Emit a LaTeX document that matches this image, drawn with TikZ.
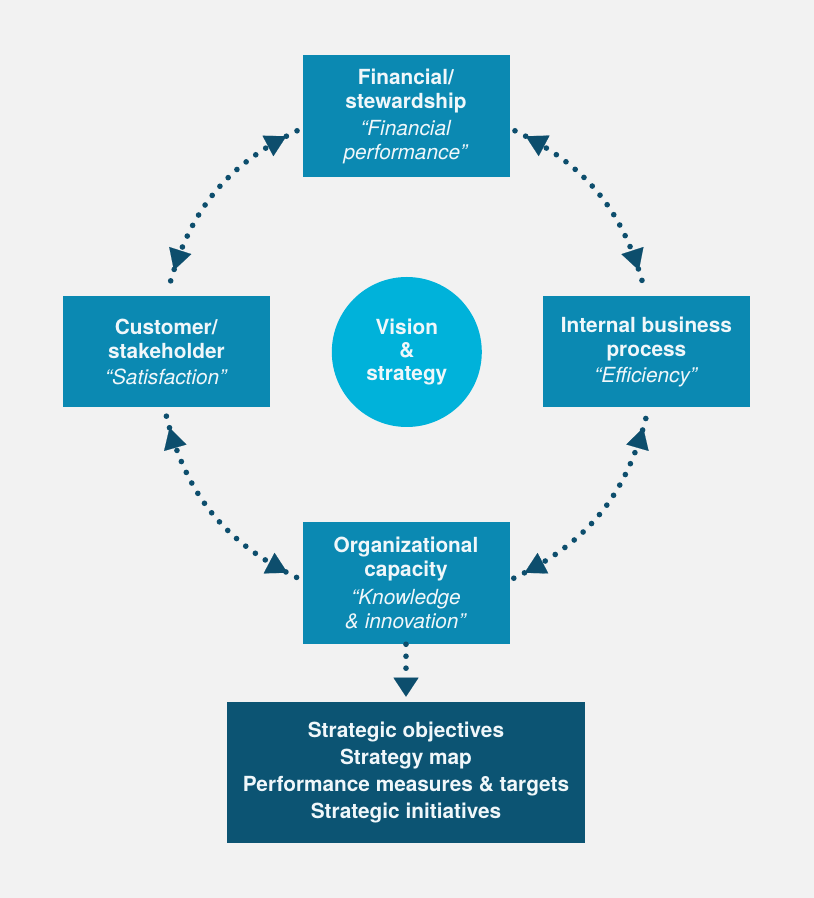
\documentclass[tikz,border=0pt]{standalone}
\usepackage{fontspec}
\setmainfont{TeX Gyre Heros}
\usetikzlibrary{arrows.meta,decorations.markings}
\definecolor{bgc}{HTML}{F2F2F2}
\definecolor{boxc}{HTML}{0B89B2}
\definecolor{circc}{HTML}{00B2DA}
\definecolor{goalc}{HTML}{0C5473}
\definecolor{dotc}{HTML}{0D4E6D}
\definecolor{txtc}{HTML}{F0F7FA}
\tikzset{
  box/.style={fill=boxc, text=txtc, minimum width=5.175cm, minimum height=3.05cm,
    inner sep=0pt, align=center, font=\fontsize{14.8}{17.3}\selectfont},
  link/.style={color=dotc, line width=4pt, line cap=round, dash pattern=on 0pt off 8.5pt},
  tip/.style={-{Triangle[length=0.475cm,width=0.625cm,line width=0.1pt]}},
  twohead/.style={postaction={decorate}, decoration={markings,
    mark=at position 0.3cm with {\arrowreversed{Triangle[length=0.52cm,width=0.58cm,line width=0.1pt]}},
    mark=at position -0.3cm with {\arrow{Triangle[length=0.52cm,width=0.58cm,line width=0.1pt]}}}}
}
\begin{document}
\begin{tikzpicture}
            \fill[bgc] (0,0) rectangle (20.35,22.45);
            \node[box] (fin) at (10.15,19.54) {\textbf{Financial/}\\ \textbf{stewardship}\\[2pt] \textit{“Financial}\\ \textit{performance”}};
            \node[box, minimum height=2.775cm] (cust) at (4.16,13.66) {\textbf{Customer/}\\ \textbf{stakeholder}\\[1pt] \textit{“Satisfaction”}};
            \node[box, minimum height=2.775cm] (proc) at (16.16,13.66) {\textbf{Internal business}\\ \textbf{process}\\[1pt] \textit{“Efficiency”}};
            \node[box] (org) at (10.15,7.875) {\textbf{Organizational}\\ \textbf{capacity}\\[2pt] \textit{“Knowledge}\\ \textit{\& innovation”}};
            \node[circle, fill=circc, text=txtc, minimum size=3.75cm, inner sep=0pt, align=center,
              font=\fontsize{14.8}{16.6}\selectfont\bfseries] (vision) at (10.17,13.65) {Vision\\ \&\\ strategy};
            \node[fill=goalc, text=txtc, minimum width=8.95cm, minimum height=3.525cm, inner sep=0pt, align=center,
              font=\fontsize{14.8}{19.4}\selectfont\bfseries] (goals) at (10.15,3.1375) {Strategic objectives\\ Strategy map\\ Performance measures \& targets\\ Strategic initiatives};

            \coordinate (fl) at ([xshift=-0.13cm,yshift=-0.36cm]fin.west);
            \coordinate (fr) at ([xshift=0.13cm,yshift=-0.36cm]fin.east);
            \coordinate (ct) at ([xshift=0.1cm,yshift=0.35cm]cust.north);
            \coordinate (cb) at ([yshift=-0.22cm]cust.south);
            \coordinate (pt) at ([xshift=-0.1cm,yshift=0.35cm]proc.north);
            \coordinate (pb) at ([yshift=-0.22cm]proc.south);
            \coordinate (ol) at ([xshift=-0.1cm,yshift=0.12cm]org.west);
            \coordinate (or) at ([xshift=0.1cm,yshift=0.12cm]org.east);

            \draw[link,twohead] (fl) to[bend right=24] (ct);
            \draw[link,twohead] (fr) to[bend left=24] (pt);
            \draw[link,twohead] (cb) to[bend right=25] (ol);
            \draw[link,twohead] (or) to[bend right=25] (pb);
            \draw[link,tip,shorten >=0.125cm] (org) -- (goals);
        \end{tikzpicture}
\end{document}
